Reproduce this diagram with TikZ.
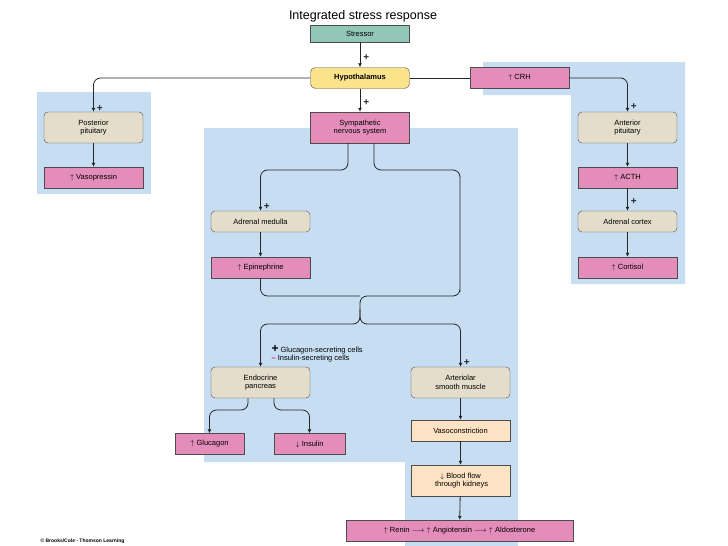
\documentclass[tikz,border=0pt]{standalone}
\usepackage{fontspec}
\setmainfont{Liberation Sans}
\usetikzlibrary{arrows.meta}
\definecolor{bgblue}{HTML}{C6DDF2}
\definecolor{tealbox}{HTML}{92C7B8}
\definecolor{pinkbox}{HTML}{E48DBA}
\definecolor{yellowbox}{HTML}{FBE38C}
\definecolor{beigebox}{HTML}{E4DDCB}
\definecolor{peachbox}{HTML}{FDE2C3}
\begin{document}
\begin{tikzpicture}[x=1pt,y=-1pt,font=\fontsize{7.5}{8.5}\selectfont,
box/.style={draw=black!70,rectangle,inner sep=1pt,minimum width=99pt,minimum height=21pt,align=center},
tallbox/.style={box,minimum height=31pt},
pinkb/.style={box,fill=pinkbox},
beigeb/.style={tallbox,fill=beigebox,rounded corners=4pt},
conn/.style={thick,black!85,rounded corners=7pt},
arr/.style={conn,-{Latex[length=4pt,width=4pt]}},
plus/.style={font=\bfseries\fontsize{10}{10}\selectfont,inner sep=1pt}]

\useasboundingbox (0,0) rectangle (728,546);

%%% Blue areas
\fill[bgblue] (37,92) rectangle (151,194);
\fill[bgblue] (204,128) -- (518,128) -- (518,546) -- (405,546) -- (405,462) -- (204,462) -- cycle;
\fill[bgblue] (483,62) -- (685,62) -- (685,284) -- (571,284) -- (571,95) -- (483,95) -- cycle;

\node[font=\fontsize{12.5}{13}\selectfont] (title) at (363,16) {Integrated stress response};

%%% Center column
\node[box,fill=tealbox,minimum height=17pt] (stress) at (360,33.5) {Stressor};
\node[box,fill=yellowbox,rounded corners=5pt,font=\bfseries\fontsize{7.5}{8.5}\selectfont] (hypo) at (360,78) {Hypothalamus};
\node[pinkb] (crh) at (519.5,78) {$\uparrow$ CRH};
\node[tallbox,fill=pinkbox] (sns) at (360,127.5) {Sympathetic\\nervous system};

%%% Left side
\node[beigeb] (ppit) at (93.5,127.5) {Posterior\\pituitary};
\node[pinkb] (vaso) at (93.5,177.5) {$\uparrow$ Vasopressin};

%%% Right side
\node[beigeb] (apit) at (627.5,127.5) {Anterior\\pituitary};
\node[pinkb] (acth) at (627.5,177.5) {$\uparrow$ ACTH};
\node[box,fill=beigebox,rounded corners=4pt] (acort) at (627.5,221.5) {Adrenal cortex};
\node[pinkb] (cort) at (627.5,267.5) {$\uparrow$ Cortisol};

%%% Inner area
\node[box,fill=beigebox,rounded corners=4pt] (amed) at (260.5,221.5) {Adrenal medulla};
\node[pinkb] (epi) at (260.5,267.5) {$\uparrow$ Epinephrine};
\node[beigeb] (pancr) at (260.5,382.5) {Endocrine\\pancreas};
\node[beigeb] (artm) at (460.5,382.5) {Arteriolar\\smooth muscle};
\node[pinkb,minimum width=69pt] (gluc) at (209.5,444) {$\uparrow$ Glucagon};
\node[pinkb,minimum width=71pt] (insu) at (309.5,444) {$\downarrow$ Insulin};
\node[box,fill=peachbox] (vcon) at (460.5,430.5) {Vasoconstriction};
\node[tallbox,fill=peachbox] (blood) at (460.5,480.5) {$\downarrow$ Blood flow\\\ through kidneys};
\node[pinkb,minimum width=227pt] (renin) at (459.5,530.5) {$\uparrow$ Renin $\longrightarrow$ $\uparrow$ Angiotensin $\longrightarrow$ $\uparrow$ Aldosterone};

\node[anchor=west,align=left] (cells) at (268,354) {{\bfseries\large +} Glucagon-secreting cells\\{\color{magenta}\bfseries --} Insulin-secreting cells};
\node[anchor=west,font=\bfseries\fontsize{5}{5}\selectfont] (copy) at (37,541) {\copyright\ Brooks/Cole - Thomson Learning};

\coordinate (junc) at (360,309);

%%% Connectors
\draw[arr] (stress) -- (hypo) node[plus,pos=0.6,right=2pt] {+};
\draw[arr] (hypo) -- (sns) node[plus,pos=0.6,right=2pt] {+};
\draw[arr] (hypo.west) -| (ppit.north) node[plus,pos=0.95,right=2pt] {+};
\draw[conn] (hypo.east) -- (crh.west);
\draw[arr] (crh.east) -| (apit.north) node[plus,pos=0.92,right=2pt] {+};
\draw[arr] (ppit) -- (vaso);
\draw[arr] (apit) -- (acth);
\draw[arr] (acth) -- (acort) node[plus,pos=0.6,right=2pt] {+};
\draw[arr] (acort) -- (cort);
\draw[arr] (sns.south -| 348,0) |- (300,170) -| (amed.north) node[plus,pos=0.95,right=2pt] {+};
\draw[conn] (sns.south -| 374,0) |- (420,170) -| (460,296) |- (360,296) -- (junc);
\draw[arr] (amed) -- (epi);
\draw[conn] (epi.south) |- (360,296);
\draw[arr] (junc) |- (300,324) -| (pancr.north);
\draw[arr] (junc) |- (420,324) -| (artm.north) node[plus,pos=0.95,right=2pt] {+};
\draw[arr] (pancr.south -| 248,0) |- (225,410) -| (gluc.north);
\draw[arr] (pancr.south -| 274,0) |- (295,410) -| (insu.north);
\draw[arr] (artm) -- (vcon);
\draw[arr] (vcon) -- (blood);
\draw[arr] (blood) -- (renin);
\end{tikzpicture}
\end{document}
